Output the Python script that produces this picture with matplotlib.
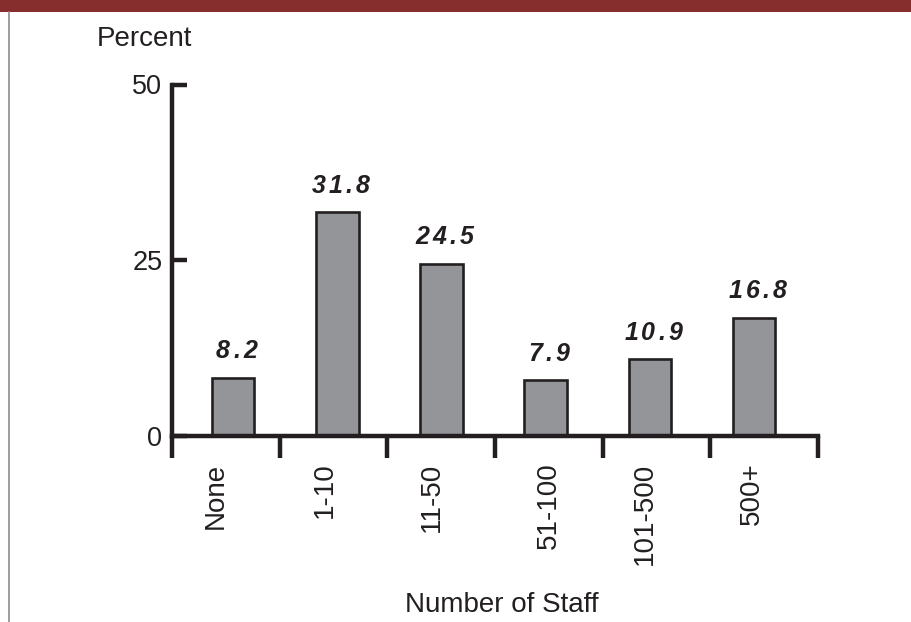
import matplotlib
matplotlib.use("Agg")
import matplotlib.pyplot as plt
from matplotlib.patches import Rectangle
from matplotlib.lines import Line2D
from matplotlib.font_manager import FontProperties

# Data
categories = ["None", "1-10", "11-50", "51-100", "101-500", "500+"]
percent = [8.2, 31.8, 24.5, 7.9, 10.9, 16.8]
y_ticks = [0, 25, 50]

# Styling
INK = "#231F20"
BAR_FILL = "#939598"
BAND = "#862D2E"
FONT = ["Liberation Sans", "DejaVu Sans"]
plt.rcParams["font.family"] = FONT
plt.rcParams["text.color"] = INK

W, H = 911, 622
fig = plt.figure(figsize=(W / 100, H / 100), dpi=100)
renderer = fig.canvas.get_renderer()

# Header band and thin left rule
fig.patches.append(Rectangle((0, 1 - 12 / H), 1, 12 / H, transform=fig.transFigure,
                             facecolor=BAND, edgecolor="none", zorder=0))
fig.lines.append(Line2D([9 / W, 9 / W], [0, 1 - 12 / H], transform=fig.transFigure,
                        color="#8C8C8C", linewidth=1.2))

# Axes geometry (pixels)
x0_px, x1_px = 172, 818
y0_px, y50_px = 435.5, 84.5
ax = fig.add_axes([x0_px / W, 1 - y0_px / H, (x1_px - x0_px) / W, (y0_px - y50_px) / H])
ax.patch.set_visible(False)

pos = list(range(len(categories)))
sep_start, sep_step = -0.585, 1.033
separators = [sep_start + sep_step * k for k in range(len(categories) + 1)]
ax.set_xlim(separators[0], separators[-1])
ax.set_ylim(0, 50)

ax.bar(pos, percent, width=0.41, color=BAR_FILL, edgecolor=INK,
       linewidth=1.9, zorder=2)

# Value labels: bold italic with extra letter spacing, laid out glyph by glyph
val_font = FontProperties(family="Liberation Sans", weight="bold", style="italic",
                          size=18)
tracking_pt = 2.3
px_to_pt = 72 / fig.dpi


def char_width_pt(ch):
    w, _, _ = renderer.get_text_width_height_descent(ch, val_font, ismath=False)
    return w * px_to_pt


for x, v in zip(pos, percent):
    txt = f"{v:.1f}"
    widths = [char_width_pt(c) for c in txt]
    total = sum(widths) + tracking_pt * (len(txt) - 1)
    cursor = -total / 2 + 2.5
    for ch, w in zip(txt, widths):
        ax.annotate(ch, (x, v), xytext=(cursor, 14.0), textcoords="offset points",
                    ha="left", va="baseline", fontproperties=val_font, color=INK)
        cursor += w + tracking_pt

# Spines
for side in ("top", "right"):
    ax.spines[side].set_visible(False)
for side in ("left", "bottom"):
    ax.spines[side].set_linewidth(3.2)
    ax.spines[side].set_color(INK)
ax.spines["left"].set_bounds(0, 50)

# Y ticks
ax.set_yticks(y_ticks)
ax.set_yticklabels([str(t) for t in y_ticks])
ax.tick_params(axis="y", direction="in", length=10.8, width=3.2, color=INK,
               pad=7, labelsize=19.5, labelcolor=INK)

# X: category labels under the bars, separators as minor ticks
label_shift = [-0.17, -0.12, -0.09, 0.03, -0.05, -0.02]
ax.set_xticks([p + s for p, s in zip(pos, label_shift)])
ax.set_xticklabels(categories, rotation=90, va="top", ha="center")
ax.set_xticks(separators, minor=True)
ax.tick_params(axis="x", which="major", length=0, pad=19.5, labelsize=20,
               labelcolor=INK)
ax.tick_params(axis="x", which="minor", direction="out", length=15.8, width=3.2,
               color=INK)

fig.text(97 / W, 1 - 46 / H, "Percent", ha="left", va="baseline", fontsize=20,
         color=INK)
fig.text(501.7 / W, 1 - 611.7 / H, "Number of Staff", ha="center", va="baseline",
         fontsize=20, color=INK)

fig.savefig("out.png", dpi=100, facecolor="white")
